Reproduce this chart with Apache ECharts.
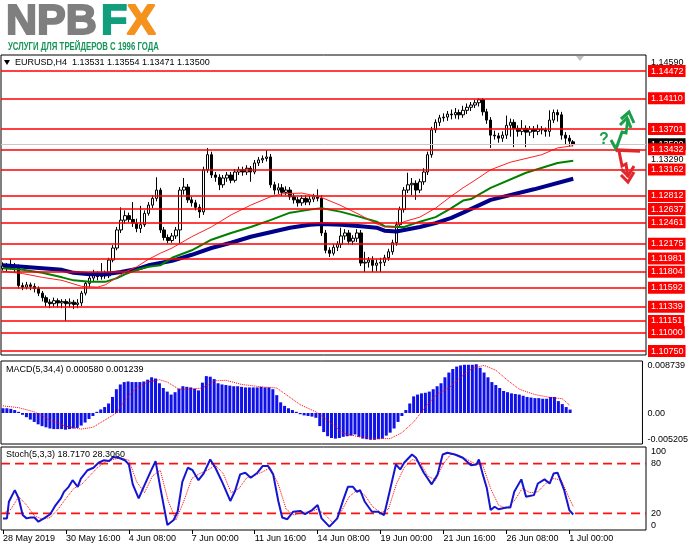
<!DOCTYPE html>
<html>
<head>
<meta charset="utf-8">
<script src="https://cdn.jsdelivr.net/npm/echarts@6.0.0/dist/echarts.min.js"></script>
<style>
  html, body { margin: 0; padding: 0; background: #fff; }
  #chart { width: 691px; height: 549px; }
</style>
</head>
<body>
<div id="chart"></div>
<script>
const FONT = '"Liberation Sans", Arial, sans-serif';

// x axis: one slot per H4 bar, plus empty slots for the right shift
const slotCount = 164;
const tickLabels = ['28 May 2019', '30 May 16:00', '4 Jun 08:00', '7 Jun 00:00', '11 Jun 16:00',
  '14 Jun 08:00', '19 Jun 00:00', '21 Jun 16:00', '26 Jun 08:00', '1 Jul 00:00'];

// [open, close, low, high]
const candles = [
  [1.1185,1.1188,1.1182,1.1193],[1.1188,1.1186,1.1181,1.1192],[1.1186,1.1189,1.1183,1.1197],[1.1189,1.1187,1.1180,1.1192],
  [1.1187,1.1162,1.1158,1.1190],[1.1162,1.1160,1.1156,1.1166],[1.1160,1.1163,1.1157,1.1167],[1.1163,1.1161,1.1156,1.1166],
  [1.1161,1.1158,1.1153,1.1165],[1.1158,1.1152,1.1148,1.1161],[1.1152,1.1146,1.1141,1.1155],[1.1146,1.1140,1.1134,1.1149],
  [1.1140,1.1138,1.1132,1.1144],[1.1138,1.1142,1.1134,1.1146],[1.1142,1.1139,1.1133,1.1145],[1.1139,1.1141,1.1132,1.1144],
  [1.1141,1.1138,1.1115,1.1144],[1.1138,1.1140,1.1133,1.1145],[1.1140,1.1137,1.1131,1.1143],[1.1137,1.1139,1.1132,1.1144],
  [1.1139,1.1152,1.1135,1.1155],[1.1152,1.1165,1.1149,1.1168],[1.1165,1.1172,1.1160,1.1176],[1.1172,1.1176,1.1168,1.1183],
  [1.1176,1.1174,1.1169,1.1181],[1.1174,1.1177,1.1170,1.1192],[1.1177,1.1175,1.1171,1.1182],[1.1175,1.1196,1.1172,1.1199],
  [1.1196,1.1212,1.1193,1.1216],[1.1212,1.1236,1.1209,1.1240],[1.1236,1.1249,1.1232,1.1266],[1.1249,1.1255,1.1244,1.1262],
  [1.1255,1.1250,1.1246,1.1259],[1.1250,1.1245,1.1240,1.1273],[1.1245,1.1238,1.1233,1.1251],[1.1238,1.1243,1.1232,1.1268],
  [1.1243,1.1258,1.1240,1.1262],[1.1258,1.1269,1.1255,1.1273],[1.1269,1.1278,1.1265,1.1282],[1.1278,1.1289,1.1274,1.1306],
  [1.1289,1.1236,1.1232,1.1292],[1.1236,1.1226,1.1222,1.1240],[1.1226,1.1222,1.1218,1.1230],[1.1222,1.1228,1.1219,1.1232],
  [1.1228,1.1236,1.1224,1.1240],[1.1236,1.1289,1.1218,1.1293],[1.1289,1.1293,1.1283,1.1305],[1.1293,1.1276,1.1272,1.1297],
  [1.1276,1.1272,1.1267,1.1280],[1.1272,1.1266,1.1262,1.1276],[1.1266,1.1260,1.1252,1.1270],[1.1260,1.1316,1.1256,1.1320],
  [1.1316,1.1336,1.1312,1.1345],[1.1336,1.1309,1.1305,1.1340],[1.1309,1.1306,1.1300,1.1313],[1.1306,1.1296,1.1289,1.1310],
  [1.1296,1.1305,1.1292,1.1309],[1.1305,1.1309,1.1300,1.1313],[1.1309,1.1302,1.1298,1.1313],[1.1302,1.1313,1.1299,1.1317],
  [1.1313,1.1316,1.1309,1.1320],[1.1316,1.1313,1.1308,1.1320],[1.1313,1.1318,1.1309,1.1322],[1.1318,1.1313,1.1300,1.1321],
  [1.1313,1.1325,1.1310,1.1329],[1.1325,1.1329,1.1321,1.1333],[1.1329,1.1331,1.1325,1.1335],[1.1331,1.1333,1.1327,1.1342],
  [1.1333,1.1296,1.1292,1.1337],[1.1296,1.1289,1.1283,1.1300],[1.1289,1.1292,1.1284,1.1298],[1.1292,1.1286,1.1281,1.1297],
  [1.1286,1.1289,1.1282,1.1294],[1.1289,1.1280,1.1276,1.1293],[1.1280,1.1276,1.1271,1.1284],[1.1276,1.1272,1.1267,1.1280],
  [1.1272,1.1278,1.1268,1.1282],[1.1278,1.1273,1.1269,1.1282],[1.1273,1.1277,1.1269,1.1281],[1.1277,1.1280,1.1273,1.1284],
  [1.1280,1.1278,1.1274,1.1290],[1.1278,1.1232,1.1228,1.1282],[1.1232,1.1209,1.1205,1.1236],[1.1209,1.1205,1.1200,1.1213],
  [1.1205,1.1213,1.1202,1.1217],[1.1213,1.1217,1.1208,1.1221],[1.1217,1.1228,1.1212,1.1239],[1.1228,1.1232,1.1223,1.1237],
  [1.1232,1.1221,1.1217,1.1236],[1.1221,1.1225,1.1216,1.1229],[1.1225,1.1232,1.1220,1.1237],[1.1232,1.1192,1.1188,1.1236],
  [1.1192,1.1193,1.1180,1.1207],[1.1193,1.1196,1.1186,1.1200],[1.1196,1.1189,1.1180,1.1201],[1.1189,1.1192,1.1181,1.1197],
  [1.1192,1.1193,1.1180,1.1199],[1.1193,1.1199,1.1188,1.1203],[1.1199,1.1207,1.1195,1.1211],[1.1207,1.1219,1.1203,1.1223],
  [1.1219,1.1243,1.1215,1.1247],[1.1243,1.1263,1.1239,1.1267],[1.1263,1.1289,1.1259,1.1293],[1.1289,1.1296,1.1285,1.1312],
  [1.1296,1.1298,1.1282,1.1305],[1.1298,1.1289,1.1276,1.1302],[1.1289,1.1300,1.1285,1.1304],[1.1300,1.1313,1.1296,1.1318],
  [1.1313,1.1336,1.1309,1.1340],[1.1336,1.1369,1.1332,1.1373],[1.1369,1.1379,1.1365,1.1383],[1.1379,1.1385,1.1374,1.1389],
  [1.1385,1.1386,1.1380,1.1391],[1.1386,1.1390,1.1381,1.1394],[1.1390,1.1389,1.1383,1.1396],[1.1389,1.1392,1.1384,1.1398],
  [1.1392,1.1389,1.1383,1.1396],[1.1389,1.1395,1.1385,1.1401],[1.1395,1.1399,1.1390,1.1404],[1.1399,1.1402,1.1394,1.1406],
  [1.1402,1.1405,1.1398,1.1409],[1.1405,1.1409,1.1400,1.1411],[1.1409,1.1393,1.1388,1.1411],[1.1393,1.1382,1.1377,1.1397],
  [1.1382,1.1362,1.1345,1.1386],[1.1362,1.1361,1.1356,1.1368],[1.1361,1.1358,1.1352,1.1365],[1.1358,1.1362,1.1353,1.1367],
  [1.1362,1.1375,1.1357,1.1388],[1.1375,1.1379,1.1360,1.1384],[1.1379,1.1371,1.1346,1.1383],[1.1371,1.1367,1.1360,1.1375],
  [1.1367,1.1371,1.1362,1.1382],[1.1371,1.1366,1.1346,1.1375],[1.1366,1.1370,1.1361,1.1374],[1.1370,1.1367,1.1358,1.1374],
  [1.1367,1.1370,1.1362,1.1376],[1.1370,1.1369,1.1363,1.1374],[1.1369,1.1367,1.1360,1.1372],[1.1367,1.1382,1.1360,1.1395],
  [1.1382,1.1392,1.1378,1.1396],[1.1392,1.1389,1.1380,1.1396],[1.1389,1.1362,1.1356,1.1393],[1.1362,1.1358,1.1350,1.1366],
  [1.1358,1.1354,1.1347,1.1362],[1.13531,1.13500,1.13471,1.13554]
];

// moving averages, [bar, price]
const maFast = [[0,1.1181],[5,1.1178],[10,1.1173],[15,1.1169],[20,1.1161],[24,1.1160],[26,1.1163],[29,1.1173],
  [31,1.1180],[34,1.1187],[37,1.1197],[40,1.1205],[43,1.1212],[48,1.1227],[53,1.1240],[58,1.1256],[63,1.1269],
  [68,1.1280],[71,1.1284],[76,1.1285],[80.6,1.1280],[85.7,1.1269],[90.8,1.1256],[94.6,1.1245],[97,1.1240],
  [99.6,1.1240],[102,1.1247],[106,1.1253],[110,1.1265],[114,1.1281],[117,1.1292],[120,1.1302],[124,1.1316],
  [129,1.1326],[137,1.1336],[141,1.1345],[145,1.1348]];
const maMid = [[0,1.1185],[5,1.1183],[10,1.1179],[15,1.1173],[18,1.1169],[22,1.1167],[26,1.1167],[29,1.1172],
  [31,1.1177],[34,1.1183],[37,1.1187],[40,1.1189],[43,1.1199],[48,1.1209],[53,1.1223],[58,1.1232],[63,1.1240],
  [68,1.1249],[73,1.1259],[78,1.1263],[81,1.1265],[86,1.1260],[91,1.1253],[95,1.1247],[97,1.1241],[100,1.1240],
  [102,1.1240],[106,1.1247],[110,1.1253],[114,1.1265],[117,1.1275],[119,1.1277],[124,1.1292],[133,1.1312],
  [141,1.1325],[145,1.1328]];
const maSlow = [[0,1.1189],[5,1.1187],[10,1.1185],[15,1.1183],[18,1.1179],[22,1.1177],[26,1.1177],[30,1.1180],
  [34,1.1184],[37,1.1189],[40,1.1192],[43,1.1195],[48,1.1203],[53,1.1212],[58,1.1219],[63,1.1227],[68,1.1233],
  [73,1.1239],[78,1.1243],[81,1.1244],[86,1.1243],[91,1.1241],[95,1.1239],[97,1.1235],[100,1.1234],[102,1.1236],
  [106,1.1240],[110,1.1245],[114,1.1252],[117,1.1259],[124,1.1276],[135,1.1290],[145,1.1304]];

// horizontal levels and current price
const levels = [1.14472, 1.14110, 1.13701, 1.13432, 1.13162, 1.12812, 1.12637, 1.12461,
  1.12175, 1.11981, 1.11804, 1.11592, 1.11339, 1.11151, 1.11000, 1.10750];
const bidPrice = 1.13500;
const priceTicks = [1.10700, 1.13290, 1.14590];

// MACD(5,34,4)
const macdHist = [
  0.0008,0.0008,0.0007,0.0005,0.0002,
  -0.0003,-0.0007,-0.0011,-0.0015,-0.0019,-0.0022,
  -0.0024,-0.0026,-0.0027,-0.0027,-0.0027,-0.0028,-0.0027,-0.0026,-0.0025,
  -0.0021,-0.0016,-0.0010,-0.0005,0.0002,0.0006,0.0010,0.0016,
  0.0027,0.0040,0.0048,0.0052,
  0.0053,0.0052,0.0052,0.0052,0.0053,
  0.0056,0.0060,0.0058,0.0050,0.0042,0.0036,0.0031,
  0.0035,0.0041,0.0045,0.0044,0.0043,0.0041,0.0038,
  0.0051,0.0062,0.0061,0.0057,0.0050,
  0.0048,0.0047,0.0046,0.0045,0.0045,0.0044,0.0043,0.0043,0.0043,0.0043,0.0044,0.0043,0.0043,0.0040,
  0.0030,0.0018,0.0012,0.0008,0.0005,0.0002,-0.0002,-0.0004,-0.0005,-0.0006,-0.0008,
  -0.0022,-0.0032,-0.0039,-0.0042,-0.0043,-0.0042,-0.0040,-0.0039,-0.0038,-0.0036,
  -0.0040,-0.0043,-0.0044,-0.0045,-0.0045,-0.0044,-0.0043,
  -0.0038,-0.0033,-0.0026,-0.0015,-0.0005,0.0005,0.0016,
  0.0028,0.0031,0.0033,0.0034,0.0036,0.0040,0.0045,0.0050,
  0.0060,0.0068,0.0074,0.0078,0.0080,0.0081,0.0081,0.0081,0.0082,
  0.0076,0.0068,0.0060,0.0052,0.0047,0.0042,0.0037,0.0035,
  0.0033,0.0032,0.0031,0.0029,0.0027,0.0026,0.0025,0.0025,0.0024,0.0024,
  0.0027,0.0027,0.0020,0.0015,0.0010,0.00058
];
const macdSignal = [[0,0.0012],[4,0.0009],[8,0.0002],[12,-0.0012],[16,-0.0022],[20,-0.0027],[23,-0.0024],
  [26,-0.0012],[29,0.0000],[31,0.0020],[34,0.0042],[37,0.0052],[40,0.0056],[42,0.0052],[45,0.0040],[48,0.0040],
  [51,0.0042],[54,0.0054],[57,0.0055],[61,0.0048],[66,0.0044],[70,0.0042],[73,0.0028],[76,0.0014],[80,0.0002],
  [83,-0.0012],[87,-0.0034],[91,-0.0040],[95,-0.0043],[99,-0.0043],[102,-0.0033],[105,-0.0015],[108,0.0010],
  [111,0.0032],[114,0.0042],[117,0.0060],[120,0.0075],[123,0.0080],[126,0.0072],[129,0.0055],[132,0.0040],
  [136,0.0031],[140,0.0026],[143,0.0024],[145,0.001239]];
const macdRange = [-0.005205, 0.008739];

// Stochastic(5,3,3), [bar, value]
const stochMain = [[0,14],[1,14],[1.5,34],[3,48],[4,38],[5,18],[6,14],[7,15],[8,15],[9,10],[10.4,14],[12,19],
  [13.4,30],[14.7,38],[15.5,46],[16.7,52],[17.7,60],[19,52],[19.8,62],[21.5,72],[23,75],[24.3,81],[25.6,84],
  [27,83],[28,88],[29.4,87],[31,84],[32,79],[33,55],[34.5,38],[35.7,51],[37.5,70],[38.8,83],[40,51],[41.8,6],
  [43.4,12],[44.4,22],[45.6,58],[47,75],[48.2,72],[49.7,60],[51,68],[52.7,85],[54,75],[55.8,57],[57.8,35],
  [59,47],[60.3,67],[61.6,69],[63,63],[64.7,69],[66,77],[67.4,77],[68.7,67],[70,35],[71,15],[72.3,13],
  [73.8,22],[75.6,23],[76.8,19],[78.6,24],[80,30],[81,14],[83,4],[85,14],[86.5,36],[87.7,52],[89,52],
  [90,46],[90.8,48],[92,34],[93.8,22],[95.3,22],[96.9,18],[97.9,38],[99.9,79],[101,73],[102,81],[104,91],
  [105,87],[107,69],[109,55],[110.5,67],[111.8,91],[113,93],[114.9,91],[116.9,87],[119,78],[120.4,79],
  [121,85],[122,67],[123,51],[124,24],[125,28],[126,25],[128,27],[129,27],[130,46],[131.8,61],[133,40],
  [135,42],[136,56],[137.7,61],[139,56],[140,68],[141,69],[142.7,48],[144,24],[145,18.717]];
const stochSignal = [[0,20],[2,25],[4,40],[6,30],[8,17],[10,13],[12,15],[14,25],[16,38],[18,50],[20,55],
  [22,65],[24,75],[26,82],[28,85],[30,87],[32,84],[34,58],[36,45],[38,65],[40,72],[42,35],[44,12],[46,35],
  [48,62],[50,68],[52,72],[54,78],[56,68],[58,45],[60,50],[62,63],[64,66],[66,70],[68,75],[70,55],[72,25],
  [74,18],[76,21],[78,22],[80,25],[82,18],[84,8],[86,22],[88,40],[90,48],[92,42],[94,28],[96,21],[98,25],
  [100,55],[102,75],[104,85],[106,82],[108,65],[110,60],[112,80],[114,92],[116,90],[118,85],[120,80],
  [122,78],[124,50],[126,30],[128,26],[130,35],[132,50],[134,45],[136,46],[138,56],[140,62],[142,60],
  [144,38],[145,28.306]];
const stochLevels = [80, 20];
const stochTicks = [0, 20, 80, 100];

const categories = [];
for (let i = 0; i < slotCount; i++) {
  categories.push(i % 16 === 0 && tickLabels[i / 16] ? tickLabels[i / 16] : '');
}

const chart = echarts.init(document.getElementById('chart'), null, {renderer: 'canvas'});

const gridBox = {left: 1, right: 45, show: true, borderColor: '#000', borderWidth: 1, backgroundColor: '#fff'};

function catAxis(gridIndex, showIt) {
  return {
    type: 'category', gridIndex, data: categories, boundaryGap: true, show: showIt,
    axisLine: {show: false},
    axisTick: {show: showIt, alignWithLabel: true, length: 4, lineStyle: {color: '#000'},
      interval: (i, v) => v !== ''},
    axisLabel: {show: showIt, interval: (i, v) => v !== '', align: 'left', margin: 4,
      fontSize: 9, color: '#000', fontFamily: FONT}
  };
}
function valAxis(gridIndex) {
  return {type: 'value', gridIndex, min: -0.5, max: slotCount - 0.5, show: false};
}
const rightLabel = {fontSize: 9, color: '#000', fontFamily: FONT, margin: 5};

// one flat line across the whole panel for each stochastic level
const levelSeries = stochLevels.map(v => ({
  type: 'line', xAxisIndex: 5, yAxisIndex: 2, symbol: 'none', silent: true,
  data: [[-0.5, v], [slotCount - 0.5, v]],
  lineStyle: {color: '#ff1010', width: 1.8, type: [9, 5]}
}));

const option = {
  animation: false,
  textStyle: {fontFamily: FONT},
  grid: [
    Object.assign({top: 55, height: 300}, gridBox),
    Object.assign({top: 361, height: 83}, gridBox),
    Object.assign({top: 447, height: 83}, gridBox)
  ],
  xAxis: [catAxis(0, false), valAxis(0), catAxis(1, false), valAxis(1), catAxis(2, true), valAxis(2)],
  yAxis: [
    {
      type: 'value', gridIndex: 0, position: 'right', min: 1.10698, max: 1.14685,
      splitLine: {show: false}, axisLine: {show: false}, axisTick: {show: false},
      axisLabel: Object.assign({customValues: priceTicks, formatter: v => v.toFixed(5)}, rightLabel)
    },
    {
      type: 'value', gridIndex: 1, position: 'right', min: macdRange[0], max: macdRange[1],
      splitLine: {show: false}, axisLine: {show: false}, axisTick: {show: false},
      axisLabel: Object.assign({
        customValues: [macdRange[0], 0, macdRange[1]],
        formatter: v => (v === 0 ? '0.00' : v.toFixed(6)),
        verticalAlignMaxLabel: 'top', verticalAlignMinLabel: 'bottom'
      }, rightLabel)
    },
    {
      type: 'value', gridIndex: 2, position: 'right', min: 0, max: 100,
      splitLine: {show: false}, axisLine: {show: false}, axisTick: {show: false},
      axisLabel: Object.assign({
        customValues: stochTicks, verticalAlignMaxLabel: 'top', verticalAlignMinLabel: 'bottom'
      }, rightLabel)
    }
  ],
  series: [
    {
      type: 'candlestick', xAxisIndex: 0, yAxisIndex: 0, data: candles, barWidth: 3,
      itemStyle: {color: '#ffffff', color0: '#000000', borderColor: '#000000', borderColor0: '#000000', borderWidth: 1},
      markLine: {
        symbol: 'none', silent: true, animation: false, precision: 5,
        lineStyle: {color: '#ff0000', width: 1.5, type: 'solid'},
        label: {position: 'end', distance: 2, formatter: p => p.value.toFixed(5), color: '#fff',
          backgroundColor: '#ff0000', padding: [2, 2, 1, 3], fontSize: 9, fontFamily: FONT},
        data: [{yAxis: bidPrice, lineStyle: {color: '#c8c8c8', width: 1}, label: {backgroundColor: '#000'}}]
          .concat(levels.map(v => ({yAxis: v})))
      }
    },
    {type: 'line', xAxisIndex: 1, yAxisIndex: 0, data: maSlow, symbol: 'none',
      lineStyle: {color: '#00008b', width: 4}},
    {type: 'line', xAxisIndex: 1, yAxisIndex: 0, data: maMid, symbol: 'none',
      lineStyle: {color: '#008000', width: 2}},
    {type: 'line', xAxisIndex: 1, yAxisIndex: 0, data: maFast, symbol: 'none',
      lineStyle: {color: '#ff2020', width: 1}},
    {type: 'bar', xAxisIndex: 2, yAxisIndex: 1, data: macdHist, barWidth: 3,
      itemStyle: {color: '#1010e8'}},
    {type: 'line', xAxisIndex: 3, yAxisIndex: 1, data: macdSignal, symbol: 'none',
      lineStyle: {color: '#ff0000', width: 1, type: 'dotted'}}
  ].concat(levelSeries, [
    {type: 'line', xAxisIndex: 5, yAxisIndex: 2, data: stochSignal, symbol: 'none',
      lineStyle: {color: '#ff0000', width: 1, type: 'dotted'}},
    {type: 'line', xAxisIndex: 5, yAxisIndex: 2, data: stochMain, symbol: 'none',
      lineStyle: {color: '#1515d0', width: 2}}
  ]),
  graphic: [
    {type: 'text', x: 6, y: 22.5, style: {text: 'NPB', fill: '#7f7f7f', stroke: '#7f7f7f', lineWidth: 2,
      font: 'bold 43px ' + FONT, verticalAlign: 'middle'}},
    {type: 'text', x: 101, y: 22.5, style: {text: 'F', fill: '#119e7c', stroke: '#119e7c', lineWidth: 2,
      font: 'bold 43px ' + FONT, verticalAlign: 'middle'}},
    {type: 'text', x: 127, y: 22.5, style: {text: 'X', fill: '#f5921e', stroke: '#f5921e', lineWidth: 2,
      font: 'bold 43px ' + FONT, verticalAlign: 'middle'}},
    {type: 'text', x: 8, y: 47.5, scaleX: 0.78,
      style: {text: 'УСЛУГИ ДЛЯ ТРЕЙДЕРОВ С 1996 ГОДА', fill: '#17945a', font: 'bold 10px ' + FONT, verticalAlign: 'middle'}},
    {type: 'polygon', shape: {points: [[4, 60], [10, 60], [7, 65]]}, style: {fill: '#000'}, z: 10},
    {type: 'text', x: 15, y: 63, z: 10,
      style: {text: 'EURUSD,H4  1.13531 1.13554 1.13471 1.13500', fill: '#000', font: '9px ' + FONT, verticalAlign: 'middle'}},
    {type: 'text', x: 6, y: 370, z: 10,
      style: {text: 'MACD(5,34,4) 0.000580 0.001239', fill: '#000', font: '9px ' + FONT, verticalAlign: 'middle'}},
    {type: 'text', x: 6, y: 455, z: 10,
      style: {text: 'Stoch(5,3,3) 18.7170 28.3060', fill: '#000', font: '9px ' + FONT, verticalAlign: 'middle'}},
    {type: 'polygon', shape: {points: [[576, 56], [584, 56], [580, 61]]}, style: {fill: '#c0c0c0'}, z: 10},
    {type: 'text', x: 604, y: 140, z: 10,
      style: {text: '?', fill: '#1a9e4a', font: 'bold 16px ' + FONT, align: 'center', verticalAlign: 'middle'}},
    {type: 'polyline', z: 10, shape: {points: [[611, 140], [616, 149], [622, 132], [626, 133], [628, 119]]},
      style: {stroke: '#1a9e4a', lineWidth: 3, fill: null}},
    {type: 'polyline', z: 10, shape: {points: [[621, 119], [629, 112], [634, 123]]},
      style: {stroke: '#1a9e4a', lineWidth: 3, fill: null}},
    {type: 'polyline', z: 10, shape: {points: [[620, 125], [627, 118], [631, 128]]},
      style: {stroke: '#1a9e4a', lineWidth: 3, fill: null}},
    {type: 'polyline', z: 10, shape: {points: [[616, 150], [640, 151]]},
      style: {stroke: '#e3262c', lineWidth: 3.5, fill: null}},
    {type: 'polyline', z: 10, shape: {points: [[619, 151], [622, 166], [626, 164], [628, 177]]},
      style: {stroke: '#e3262c', lineWidth: 3, fill: null}},
    {type: 'polyline', z: 10, shape: {points: [[621, 175], [628, 182], [634, 172]]},
      style: {stroke: '#e3262c', lineWidth: 3, fill: null}},
    {type: 'polyline', z: 10, shape: {points: [[621, 169], [628, 176], [634, 166]]},
      style: {stroke: '#e3262c', lineWidth: 3, fill: null}}
  ]
};

chart.setOption(option);
</script>
</body>
</html>
